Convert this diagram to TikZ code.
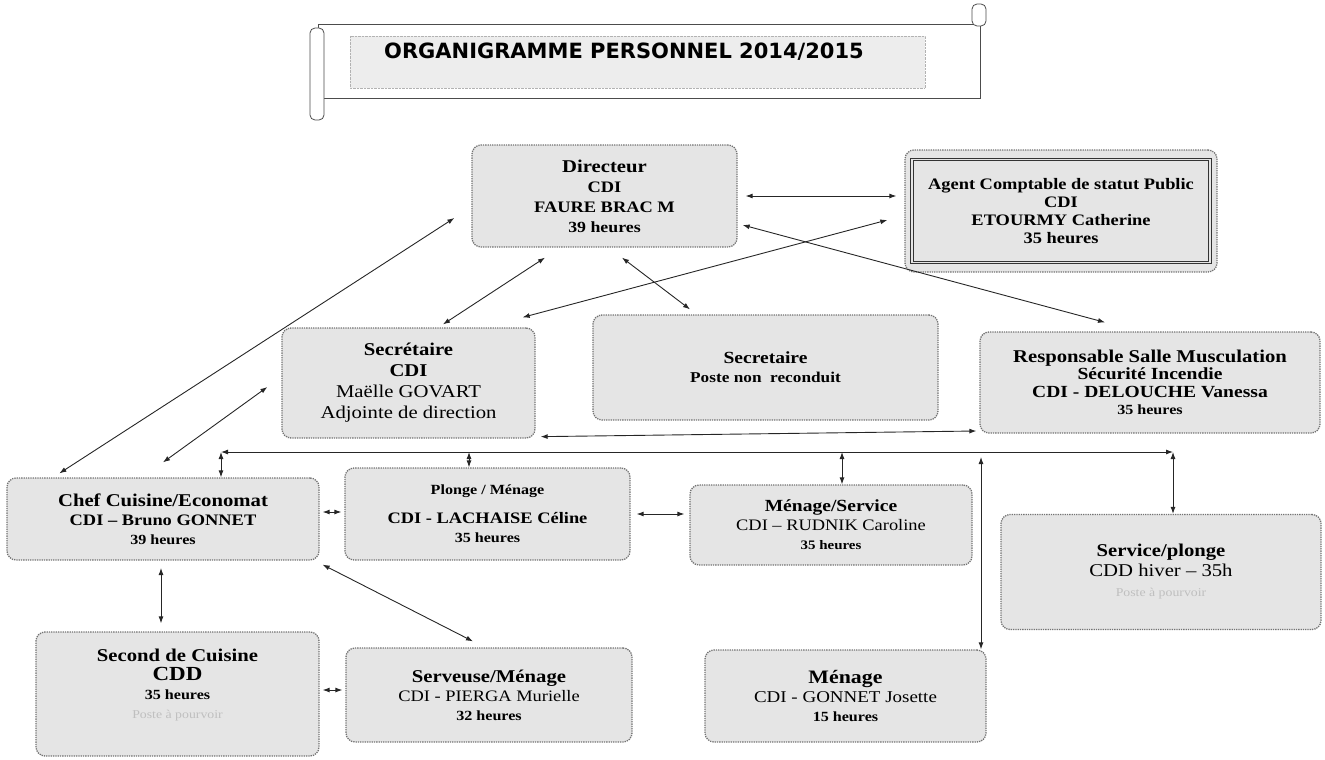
\documentclass[tikz,border=0pt]{standalone}
\usepackage{fontspec}
\setmainfont[FakeStretch=1.15]{Liberation Serif}
\newfontfamily\titlefont{DejaVu Sans}
\usetikzlibrary{arrows.meta,positioning}

\begin{document}
\begin{tikzpicture}[x=1pt,y=-1pt,
    link/.style={draw,line width=0.9pt,black!85,{Latex[length=7pt,width=5pt]}-{Latex[length=7pt,width=5pt]}},
    scroll/.style={draw=black!70,line width=0.8pt,fill=white}]

  \useasboundingbox (0,0) rectangle (1325,760);

  % title scroll
  \draw[scroll] (318,24) rectangle (980,98);
  \draw[black!30,densely dotted,fill=black!7] (350,36) rectangle (925,88);
  \draw[scroll,rounded corners=5pt] (310,28) rectangle (324,120);
  \draw[scroll,rounded corners=5pt] (972,4) rectangle (986,26);
  \node[font=\titlefont\bfseries\fontsize{21}{24}\selectfont] (title) at (624,52) {ORGANIGRAMME PERSONNEL 2014/2015};

  \begin{scope}[every node/.style={draw=black!55,line width=1.3pt,densely dotted,rounded corners=9pt,
      fill=black!10,align=center,inner sep=2pt,font=\bfseries\fontsize{16}{19}\selectfont}]
    \node[minimum width=265,minimum height=102,font=\bfseries\fontsize{16}{20}\selectfont] (dir) at (604.5,196)
      {{\fontsize{18}{20}\selectfont Directeur}\\CDI\\FAURE BRAC M\\{\fontsize{15.5}{21}\selectfont 39 heures}};
    \node[minimum width=312,minimum height=122] (agent) at (1061,211) {};
    \node[minimum width=253,minimum height=110,font=\bfseries\fontsize{18}{21}\selectfont] (sec) at (408.5,383)
      {Secrétaire\\CDI\\{\mdseries Maëlle GOVART}\\{\mdseries Adjointe de direction}};
    \node[minimum width=345,minimum height=105,font=\bfseries\fontsize{17}{19}\selectfont] (sec2) at (765.5,367.5)
      {Secretaire\\{\fontsize{15}{18}\selectfont Poste non\ \ reconduit}};
    \node[minimum width=340,minimum height=101,font=\bfseries\fontsize{17}{17.5}\selectfont] (resp) at (1150,382.5)
      {{\fontsize{18}{18}\selectfont Responsable Salle Musculation}\\Sécurité Incendie\\CDI - DELOUCHE Vanessa\\{\fontsize{14}{18}\selectfont 35 heures}};
    \node[minimum width=312,minimum height=82] (chef) at (163,519)
      {{\fontsize{18}{19}\selectfont Chef Cuisine/Economat}\\CDI -- Bruno GONNET\\{\fontsize{14}{18}\selectfont 39 heures}};
    \node[minimum width=285,minimum height=92] (plonge) at (487.5,514)
      {{\fontsize{14}{18}\selectfont Plonge / Ménage}\\[10pt]CDI - LACHAISE Céline\\{\fontsize{14}{18}\selectfont 35 heures}};
    \node[minimum width=282,minimum height=80] (menserv) at (831,525)
      {{\fontsize{17}{19}\selectfont Ménage/Service}\\{\mdseries CDI -- RUDNIK Caroline}\\{\fontsize{13}{17}\selectfont 35 heures}};
    \node[minimum width=320,minimum height=115,font=\bfseries\fontsize{18}{20}\selectfont] (servpl) at (1161,572)
      {Service/plonge\\{\mdseries CDD hiver -- 35h}\\{\mdseries\color{black!25}\fontsize{12}{18}\selectfont Poste à pourvoir}};
    \node[minimum width=283,minimum height=124] (second) at (177.5,694)
      {{\fontsize{18}{20}\selectfont Second de Cuisine}\\{\fontsize{20}{21}\selectfont CDD}\\{\fontsize{14}{18}\selectfont 35 heures}\\{\mdseries\color{black!25}\fontsize{12}{17}\selectfont Poste à pourvoir}\\[2pt]\mbox{}};
    \node[minimum width=286,minimum height=94] (serv) at (489,695)
      {{\fontsize{18}{20}\selectfont Serveuse/Ménage}\\{\mdseries CDI - PIERGA Murielle}\\{\fontsize{14}{18}\selectfont 32 heures}};
    \node[minimum width=281,minimum height=92] (jos) at (845.5,696)
      {{\fontsize{19}{20}\selectfont Ménage}\\{\mdseries\fontsize{16.5}{19}\selectfont CDI - GONNET Josette}\\{\fontsize{14}{19}\selectfont 15 heures}};
  \end{scope}

  % comptable frame
  \node[draw=black!80,line width=1.1pt,double=black!10,double distance=1.4pt,minimum width=298,minimum height=103,
    align=center,font=\bfseries\fontsize{16}{18}\selectfont] (agentin) at (agent)
    {Agent Comptable de statut Public\\CDI\\ETOURMY Catherine\\35 heures};

  % bus line
  \coordinate (busL) at (221,452);
  \coordinate (busR) at (1173,452);
  \coordinate (pd) at (469,452);
  \coordinate (md) at (842,452);
  \coordinate (jd) at (981,457);
  \coordinate (cs) at (161,568);

  \path (busL) edge[link] (busR);
  \path (busL) edge[link] (chef.north -| busL);
  \path (pd) edge[link] (plonge.north -| pd);
  \path (md) edge[link] (menserv.north -| md);
  \path (jd) edge[link] (jos.north east -| jd);
  \path (busR) edge[link] (servpl.north -| busR);

  \path ([shift={(8,0)}]dir.east) edge[link] ([shift={(-8,-15)}]agent.west);
  \path ([shift={(5,29)}]dir.east) edge[link] ([shift={(-45,-9)}]resp.north);
  \path ([shift={(-17,9)}]agent.west) edge[link] ([shift={(-13,-10)}]sec.north east);
  \path ([shift={(-59.5,10)}]dir.south) edge[link] ([shift={(34.5,-3)}]sec.north);
  \path ([shift={(17.5,10)}]dir.south) edge[link] ([shift={(-75.5,-5)}]sec2.north);
  \path ([shift={(-17,22)}]dir.west) edge[link] ([shift={(53,-4)}]chef.north west);
  \path ([shift={(-14,4)}]sec.west) edge[link] ([shift={(0,-15)}]chef.north);
  \path ([shift={(5,-2)}]sec.south east) edge[link] ([shift={(-3,48.5)}]resp.west);

  \path ([shift={(3,-7)}]chef.east) edge[link] ([shift={(-3,-2)}]plonge.west);
  \path ([shift={(6,0)}]plonge.east) edge[link] ([shift={(-5,-11)}]menserv.west);
  \path ([shift={(3,-4)}]second.east) edge[link] ([shift={(-3,-5)}]serv.west);
  \path (cs) edge[link] ([shift={(0,-8)}]second.north -| cs);
  \path ([shift={(3,4)}]chef.south east) edge[link] ([shift={(-16,-6)}]serv.north);

\end{tikzpicture}
\end{document}
